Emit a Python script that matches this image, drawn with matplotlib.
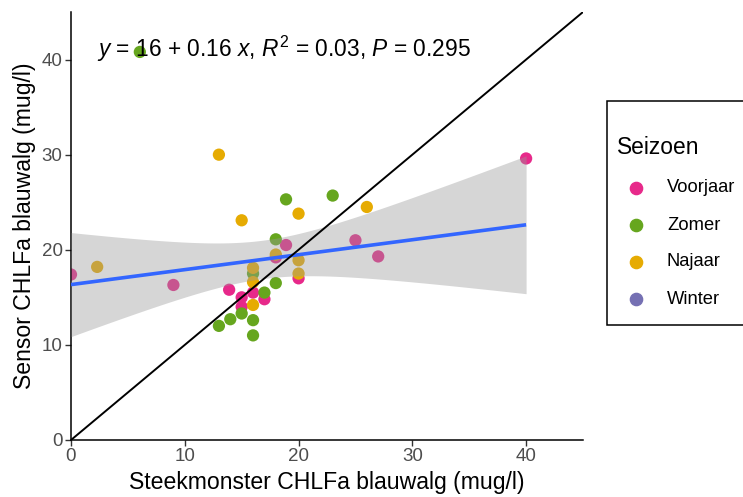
import math
import numpy as np
import matplotlib
matplotlib.use("Agg")
import matplotlib.pyplot as plt
from matplotlib.patches import Rectangle

plt.rcParams['font.family'] = ['Liberation Sans', 'DejaVu Sans']
plt.rcParams['mathtext.fontset'] = 'custom'
plt.rcParams['mathtext.rm'] = 'Liberation Sans'
plt.rcParams['mathtext.it'] = 'Liberation Sans:italic'

# Seasons and colours (Dark2)
seasons = ["Voorjaar", "Zomer", "Najaar", "Winter"]
season_colors = ["#E7298A", "#66A61E", "#E6AB02", "#7570B3"]

# Grab-sample (x) vs sensor (y) chlorophyll-a of blue algae, per season
voorjaar_x = [0, 9, 13.9, 15, 16, 17, 15, 18, 18.9, 20, 25, 27, 40]
voorjaar_y = [17.4, 16.3, 15.8, 15.0, 15.5, 14.8, 14.0, 19.2, 20.5, 17.0, 21.0, 19.3, 29.6]
zomer_x = [6.05, 18.9, 23, 18, 16, 18, 17, 15, 14, 13, 16, 16]
zomer_y = [40.8, 25.3, 25.7, 21.1, 17.5, 16.5, 15.5, 13.3, 12.7, 12.0, 12.6, 11.0]
najaar_x = [2.3, 13, 15, 20, 26, 18, 20, 20, 16, 16, 16]
najaar_y = [18.2, 30.0, 23.1, 23.8, 24.5, 19.5, 18.9, 17.5, 18.1, 16.6, 14.2]
winter_x = []
winter_y = []

eq_label = r"$y$ = 16 + 0.16 $x$, $R^2$ = 0.03, $P$ = 0.295"

series = [(voorjaar_x, voorjaar_y), (zomer_x, zomer_y), (najaar_x, najaar_y), (winter_x, winter_y)]


def t_quantile(p, df):
    """Quantile of Student's t distribution via numeric integration + bisection."""
    c = math.exp(math.lgamma((df + 1) / 2) - math.lgamma(df / 2)) / math.sqrt(df * math.pi)

    def cdf(q):
        t = np.linspace(0, q, 4001)
        f = c * (1 + t ** 2 / df) ** (-(df + 1) / 2)
        return 0.5 + np.trapezoid(f, t)

    lo, hi = 0.0, 20.0
    for _ in range(60):
        mid = (lo + hi) / 2
        if cdf(mid) < p:
            lo = mid
        else:
            hi = mid
    return (lo + hi) / 2


W, H = 743, 497
fig = plt.figure(figsize=(W / 100, H / 100), dpi=100)
ax = fig.add_axes([71 / W, 1 - 440 / H, (583 - 71) / W, (440 - 12) / H])

for (xs, ys), col in zip(series, season_colors):
    if xs:
        ax.scatter(xs, ys, s=78, color=col, edgecolors='none', zorder=2)

# Linear fit with 95% confidence band
x_all = np.array(sum([s[0] for s in series], []), dtype=float)
y_all = np.array(sum([s[1] for s in series], []), dtype=float)
n = len(x_all)
b, a = np.polyfit(x_all, y_all, 1)
resid = y_all - (a + b * x_all)
s = math.sqrt(np.sum(resid ** 2) / (n - 2))
xm = x_all.mean()
sxx = np.sum((x_all - xm) ** 2)
xg = np.linspace(x_all.min(), x_all.max(), 200)
yg = a + b * xg
se = s * np.sqrt(1 / n + (xg - xm) ** 2 / sxx)
tq = t_quantile(0.975, n - 2)
ax.fill_between(xg, yg - tq * se, yg + tq * se, color='#999999', alpha=0.4,
                linewidth=0, zorder=3)
ax.plot(xg, yg, color='#3366FF', linewidth=2.6, zorder=4, solid_capstyle='butt')

# 1:1 line
ax.axline((0, 0), slope=1, color='black', linewidth=1.4, zorder=5)

ax.text(0.05, 0.914, eq_label, transform=ax.transAxes, fontsize=16.4,
        ha='left', va='center', zorder=6)

ax.set_xlim(0, 45)
ax.set_ylim(0, 45)
ax.set_xticks([0, 10, 20, 30, 40])
ax.set_yticks([0, 10, 20, 30, 40])
for side in ['top', 'right']:
    ax.spines[side].set_visible(False)
for side in ['left', 'bottom']:
    ax.spines[side].set_linewidth(1.1)
    ax.spines[side].set_color('black')
ax.tick_params(axis='both', length=4, width=1.0, color='#333333',
               labelcolor='#4D4D4D', labelsize=13.5, pad=2)
ax.set_xlabel("Steekmonster CHLFa blauwalg (mug/l)", fontsize=16.6, labelpad=4)
ax.set_ylabel("Sensor CHLFa blauwalg (mug/l)", fontsize=16.6, labelpad=4)

# Legend box
fig.patches.append(Rectangle((607 / W, 1 - 325 / H), 0.25, (325 - 101) / H,
                             transform=fig.transFigure, facecolor='white',
                             edgecolor='black', linewidth=1.1))
fig.text(617 / W, 1 - 148 / H, "Seizoen", fontsize=16.4, ha='left', va='center')
for i, (lab, col) in enumerate(zip(seasons, season_colors)):
    yy = 1 - (188 + i * 37) / H
    fig.add_artist(plt.Line2D([636 / W], [yy], marker='o', markersize=8.8,
                              color=col, linestyle='none',
                              transform=fig.transFigure))
    fig.text(667 / W, yy, lab, fontsize=13.2, ha='left', va='center')

fig.savefig("out.png", dpi=100)
